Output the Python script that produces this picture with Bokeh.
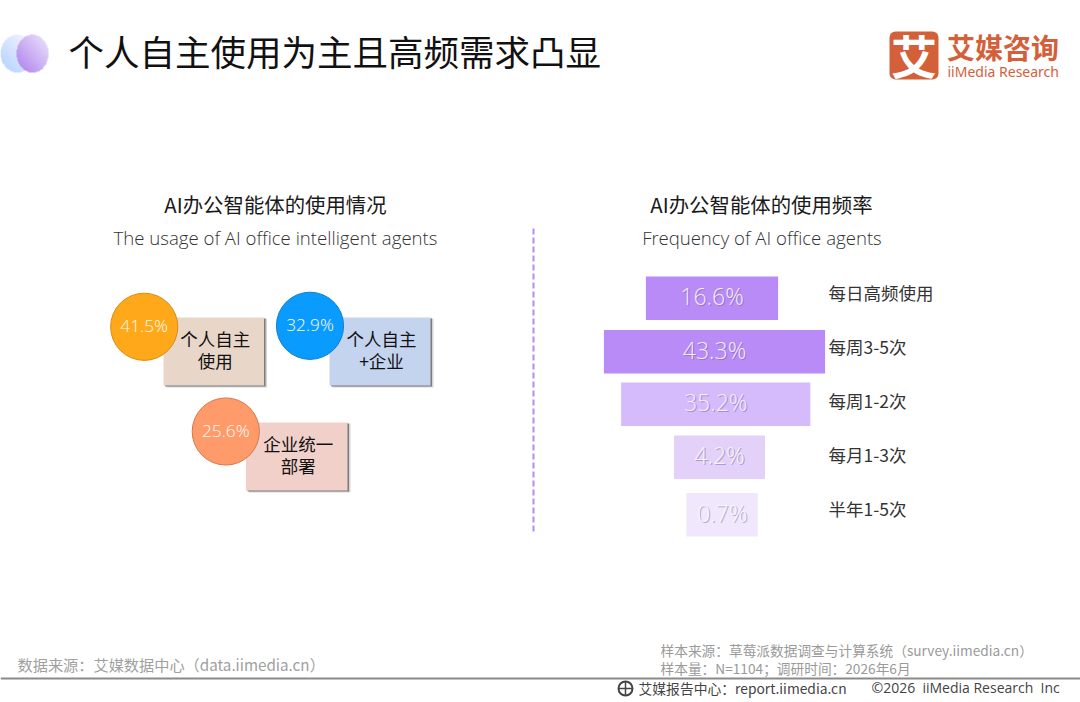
import numpy as np
from bokeh.plotting import figure
from bokeh.models import Range1d
from bokeh.core.properties import value
from bokeh.embed import file_html
from bokeh.resources import INLINE

# ---- data ----
title = "个人自主使用为主且高频需求凸显"
left_title = "AI办公智能体的使用情况"
left_sub = "The usage of AI office intelligent agents"
right_title = "AI办公智能体的使用频率"
right_sub = "Frequency of AI office agents"

usage_labels = [["个人自主", "使用"], ["个人自主", "+企业"], ["企业统一", "部署"]]
usage_values = [41.5, 32.9, 25.6]

freq_labels = ["每日高频使用", "每周3-5次", "每周1-2次", "每月1-3次", "半年1-5次"]
freq_values = [16.6, 43.3, 35.2, 4.2, 0.7]

source_left = "数据来源：艾媒数据中心（data.iimedia.cn）"
source_right = ["样本来源：草莓派数据调查与计算系统（survey.iimedia.cn）", "样本量：N=1104；调研时间：2026年6月"]
report = "艾媒报告中心：report.iimedia.cn"
copyright_text = "©2026\u00a0 iiMedia Research\u00a0 Inc"

# ---- layout and style (reference pixels) ----
CJK = value("Noto Sans CJK SC")
LATIN = value("Open Sans Light")
circle_cx = [143.7, 309.5, 225.3]
circle_cy = [326.3, 325.3, 431.0]
circle_r = 33.6
circle_fill = ["#ffa91a", "#0a9bff", "#ff9a6b"]
circle_line = ["#d68c14", "#0f7fce", "#d9764a"]
card_l = [163.0, 329.0, 245.5]
card_r = [263.5, 430.0, 347.0]
card_t = [317.0, 317.0, 422.0]
card_b = [385.0, 385.0, 490.0]
card_fill = ["#e8d6c8", "#c4d4ef", "#f0d0c9"]

funnel_base, funnel_k = 77.0, 3.33
funnel_trim = [0, 0, -5, 0, -8]
funnel_cx = [711.5, 714.0, 715.2, 719.0, 721.6]
funnel_t = [276.0, 329.5, 382.0, 435.0, 492.5]
funnel_h = 43.5
funnel_fill = ["#b98bf6", "#b98bf6", "#d5bafc", "#e3d1fa", "#f0e7fc"]
funnel_shadow = ["#8f6cc0", "#8f6cc0", "#9b85bd", "#9c90b4", "#a8a0bc"]
funnel_text = ["#f3ecfe", "#f3ecfe", "#f3ecfe", "#f6f1fc", "#f8f5fd"]
freq_label_y = [294, 348, 402, 456, 510]

p = figure(width=1080, height=702, x_range=Range1d(0, 1080), y_range=Range1d(702, 0),
           output_backend="svg", toolbar_location=None, min_border=0,
           x_axis_type=None, y_axis_type=None, background_fill_color="white",
           border_fill_color="white", outline_line_color=None)
p.grid.visible = False


def txt(x, y, s, size, color="#222222", font=CJK, align="left", style="normal", alpha=1.0):
    p.text([x], [y - 2], text=[s], text_font=font, text_font_size=size, text_color=color,
           text_align=align, text_baseline="middle", text_font_style=style, text_alpha=alpha)


def gradient(w, h, c0, c1, a0=1.0, a1=1.0):
    """Diagonal gradient inside an ellipse, lower-left c0 to upper-right c1."""
    yy, xx = np.mgrid[0:h, 0:w]
    u, v = (xx + 0.5) / w, (yy + 0.5) / h
    t = np.clip((u + 1 - v) / 2, 0, 1)[..., None]
    rgb = np.array(c0) * (1 - t) + np.array(c1) * t
    inside = ((u - .5) ** 2 + (v - .5) ** 2) <= .25
    a = (a0 * (1 - t[..., 0]) + a1 * t[..., 0]) * inside
    img = np.zeros((h, w), dtype=np.uint32)
    view = img.view(dtype=np.uint8).reshape((h, w, 4))
    view[..., :3] = rgb.astype(np.uint8)
    view[..., 3] = (a * 255).astype(np.uint8)
    return img


# title decoration
p.image_rgba(image=[gradient(136, 152, (178, 208, 255), (250, 250, 255))], x=[0], y=[34], dw=[34], dh=[38])
p.image_rgba(image=[gradient(128, 152, (172, 126, 236), (238, 232, 252))], x=[16], y=[34], dw=[32], dh=[38])
txt(68, 52, title, "35.5px", "#111111")

# logo
p.quad(left=[889], right=[938], top=[31], bottom=[79], fill_color="#d4603a", line_color=None,
       border_radius=6)
txt(913.5, 55.5, "艾", "46px", "#ffffff", align="center", style="bold")
txt(946.5, 48, "艾媒咨询", "28px", "#d4603a", style="bold")
txt(947, 72.5, "iiMedia Research", "14px", "#d4603a", font=value("Noto Sans"), style="normal")

# headings
txt(275, 205, left_title, "20.4px", "#1a1a1a", align="center")
txt(275, 239, left_sub, "18.6px", "#333333", font=LATIN, align="center")
txt(761, 205, right_title, "20.4px", "#1a1a1a", align="center")
txt(761.5, 239, right_sub, "18.6px", "#333333", font=LATIN, align="center")

# left: cards and circles
for i, v in enumerate(usage_values):
    p.quad(left=[card_l[i] + 3], right=[card_r[i] + 3], top=[card_t[i] + 1], bottom=[card_b[i] + 2],
           fill_color="#888888", fill_alpha=0.35, line_color=None)
    p.quad(left=[card_l[i] + 1.5], right=[card_r[i] + 1.5], top=[card_t[i] + 1], bottom=[card_b[i] + 1],
           fill_color="#555555", fill_alpha=0.7, line_color=None)
    p.quad(left=[card_l[i]], right=[card_r[i]], top=[card_t[i]], bottom=[card_b[i]],
           fill_color=card_fill[i], line_color=None)
    cx = (card_l[i] + card_r[i]) / 2 + 1.5
    top_y = card_t[i] + 23
    txt(cx, top_y, usage_labels[i][0], "17.5px", "#111111", align="center")
    txt(cx, top_y + 21.5, usage_labels[i][1], "17.5px", "#111111", align="center")
    p.circle([circle_cx[i]], [circle_cy[i]], radius=circle_r, fill_color=circle_fill[i],
             line_color=circle_line[i], line_width=1)
    txt(circle_cx[i], circle_cy[i] + 1, f"{v}%", "17.3px", "#fffaf2", font=LATIN, align="center")

# divider
p.line([533, 533], [228, 531], line_color="#b48cef", line_width=2, line_dash="6 3")

# right: funnel
for i, v in enumerate(freq_values):
    w = funnel_base + funnel_k * v + funnel_trim[i]
    p.quad(left=[funnel_cx[i] - w / 2], right=[funnel_cx[i] + w / 2], top=[funnel_t[i]],
           bottom=[funnel_t[i] + funnel_h], fill_color=funnel_fill[i], line_color=None)
    cy = funnel_t[i] + funnel_h / 2
    txt(funnel_cx[i] + 1.2, cy + 1.2, f"{v}%", "23px", funnel_shadow[i], font=LATIN, align="center", alpha=0.8)
    txt(funnel_cx[i], cy, f"{v}%", "23px", funnel_text[i], font=LATIN, align="center")
    txt(828, freq_label_y[i], freq_labels[i], "17.5px", "#333333")

# footer
txt(17, 665, source_left, "15.2px", "#a0a0a0")
txt(660, 651, source_right[0], "13.7px", "#9a9a9a")
txt(660, 669, source_right[1], "13.7px", "#9a9a9a")
p.line([0, 1080], [678, 678], line_color="#8a8a8a", line_width=2)
p.circle([625], [688], radius=7, fill_color=None, line_color="#444444", line_width=2)
p.line([618, 632], [688, 688], line_color="#444444", line_width=1.5)
p.line([625, 625], [681, 695], line_color="#444444", line_width=1.5)
txt(638, 689, report, "13.8px", "#444444")
txt(871, 689, copyright_text, "14px", "#444444", font=value("Open Sans"))

open("out.html", "w").write(file_html(p, INLINE))
